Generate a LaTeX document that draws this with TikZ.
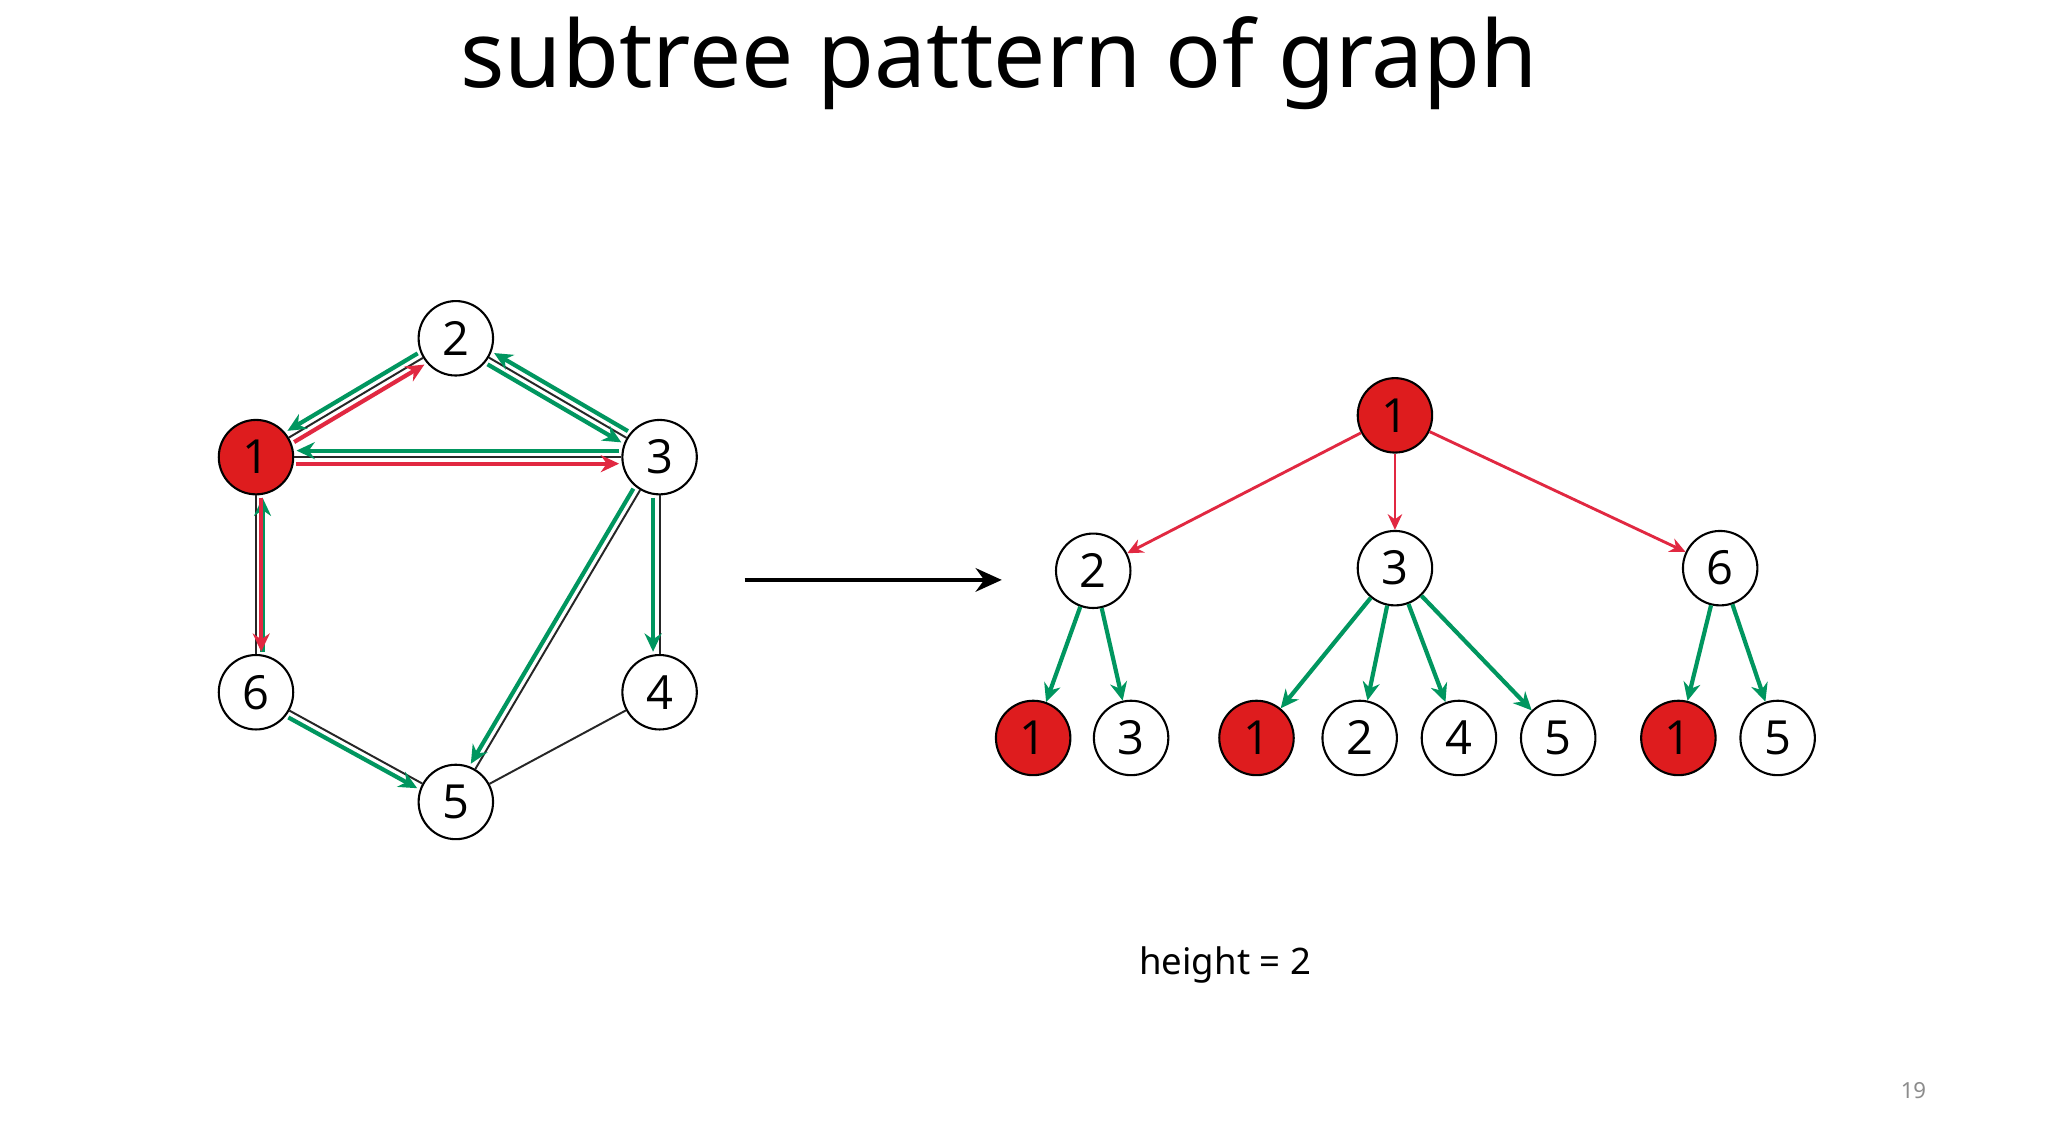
\documentclass[tikz,border=0pt]{standalone}
\usepackage{fontspec}
\setmainfont{Noto Sans}
\newfontfamily\numfont{Open Sans}
\usetikzlibrary{calc,arrows.meta}
\definecolor{nodered}{RGB}{222,28,30}
\definecolor{arrred}{RGB}{225,40,65}
\definecolor{arrgreen}{RGB}{0,150,95}
\tikzset{
  vtx/.style={circle,draw=black,line width=1.6pt,fill=white,minimum size=57pt,inner sep=0pt,font=\numfont\fontsize{36}{36}\selectfont},
  rvtx/.style={vtx,fill=nodered},
  thin edge/.style={draw=black!85,line width=1.5pt},
  carrow/.style={line width=3.2pt,-{Stealth[length=14pt,width=13pt]}},
}
\newcommand\oarrow[4]{% from, to, color, offset
  \draw[carrow,#3] ($($(#1.center)!31pt!(#2.center)$)!#4!90:(#2.center)$) -- ($($(#2.center)!31pt!(#1.center)$)!#4!-90:(#1.center)$);}
\begin{document}
\begin{tikzpicture}[x=1pt,y=-1pt]
\useasboundingbox (0,0) rectangle (1568,877);
\fill[white] (0,0) rectangle (1568,877);
\node (title) at (765,48) {\fontsize{71}{71}\selectfont subtree pattern of graph};
% left graph
\node[rvtx] (g1) at (196,350) {1};
\node[vtx] (g2) at (349,259) {2};
\node[vtx] (g3) at (505,350) {3};
\node[vtx] (g6) at (196,530) {6};
\node[vtx] (g4) at (505,530) {4};
\node[vtx] (g5) at (349,614) {5};
\draw[thin edge] (g1) -- (g2);
\draw[thin edge] (g2) -- (g3);
\draw[thin edge] (g1) -- (g3);
\draw[thin edge] (g1) -- (g6);
\draw[thin edge] (g3) -- (g4);
\draw[thin edge] (g3) -- (g5);
\draw[thin edge] (g6) -- (g5);
\draw[thin edge] (g4) -- (g5);
\oarrow{g2}{g1}{arrgreen}{-5pt}
\oarrow{g1}{g2}{arrred}{-5pt}
\oarrow{g2}{g3}{arrgreen}{-5pt}
\oarrow{g3}{g2}{arrgreen}{-5pt}
\oarrow{g3}{g1}{arrgreen}{-5pt}
\oarrow{g1}{g3}{arrred}{-5pt}
\oarrow{g6}{g1}{arrgreen}{-5pt}
\oarrow{g1}{g6}{arrred}{4pt}
\oarrow{g3}{g4}{arrgreen}{-5pt}
\oarrow{g3}{g5}{arrgreen}{-5pt}
\oarrow{g6}{g5}{arrgreen}{-5pt}
% big arrow
\coordinate (as) at (570,444);
\coordinate (ae) at (767,444);
\draw[line width=3pt,-{Stealth[length=20pt,width=18pt]}] (as) -- (ae);
% tree
\node[rvtx] (r) at (1068,318) {1};
\node[vtx] (t2) at (837,437) {2};
\node[vtx] (t3) at (1068,435) {3};
\node[vtx] (t6) at (1317,435) {6};
\node[rvtx] (l1) at (791,565) {1};
\node[vtx] (l2) at (866,565) {3};
\node[rvtx] (l3) at (962,565) {1};
\node[vtx] (l4) at (1041,565) {2};
\node[vtx] (l5) at (1117,565) {4};
\node[vtx] (l6) at (1193,565) {5};
\node[rvtx] (l7) at (1285,565) {1};
\node[vtx] (l8) at (1361,565) {5};
\tikzset{tred/.style={arrred,line width=2.2pt,-{Stealth[length=12pt,width=11pt]}},
         tgreen/.style={arrgreen,line width=3.2pt,-{Stealth[length=14pt,width=13pt]}}}
\draw[tred] (r) -- (t2);
\draw[tred] (r) -- (t3);
\draw[tred] (r) -- (t6);
\draw[tgreen] (t2) -- (l1);
\draw[tgreen] (t2) -- (l2);
\draw[tgreen] (t3) -- (l3);
\draw[tgreen] (t3) -- (l4);
\draw[tgreen] (t3) -- (l5);
\draw[tgreen] (t3) -- (l6);
\draw[tgreen] (t6) -- (l7);
\draw[tgreen] (t6) -- (l8);
\node (h) at (938,739) {\fontsize{28}{28}\selectfont height = 2};
\node[text=black!45] (pg) at (1465,835) {\fontsize{17}{17}\selectfont 19};
\end{tikzpicture}
\end{document}
